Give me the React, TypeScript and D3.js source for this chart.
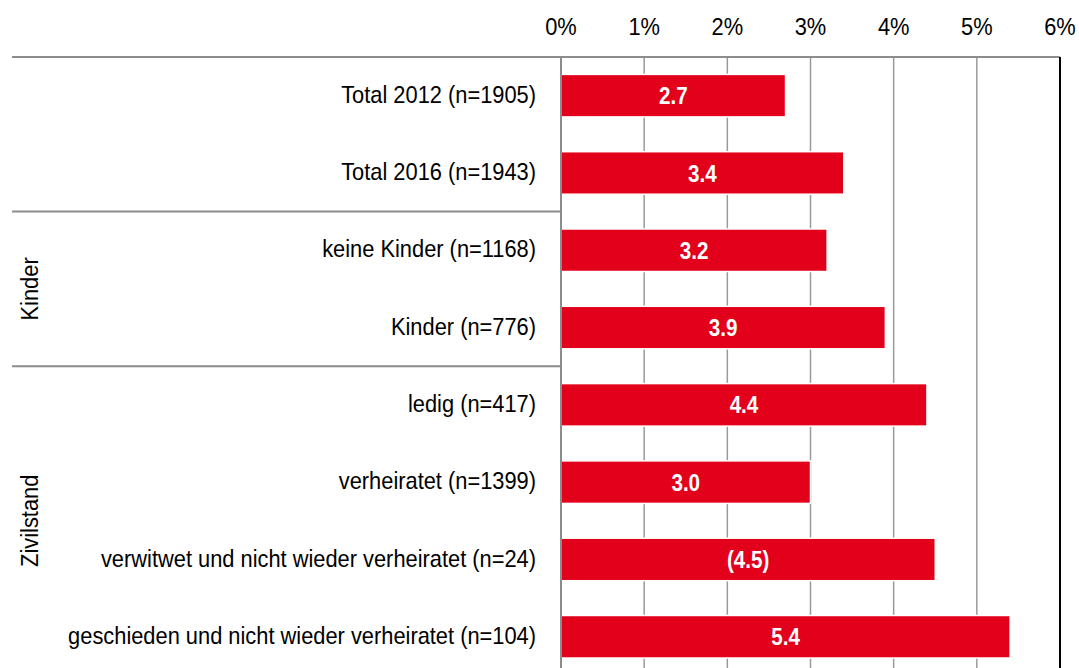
import React, { useRef, useEffect } from "react";
import * as d3 from "d3";

const categories = [
  "Total 2012 (n=1905)",
  "Total 2016 (n=1943)",
  "keine Kinder (n=1168)",
  "Kinder (n=776)",
  "ledig (n=417)",
  "verheiratet (n=1399)",
  "verwitwet und nicht wieder verheiratet (n=24)",
  "geschieden und nicht wieder verheiratet (n=104)",
];
const values = [2.7, 3.4, 3.2, 3.9, 4.4, 3.0, 4.5, 5.4];
const valueLabels = ["2.7", "3.4", "3.2", "3.9", "4.4", "3.0", "(4.5)", "5.4"];
const groupNames = ["", "Kinder", "Zivilstand"];
const groupStarts = [0, 2, 4];
const groupEnds = [2, 4, 8];
const ticks = [0, 1, 2, 3, 4, 5, 6];

const App = () => {
  const svgRef = useRef<SVGSVGElement>(null);

  useEffect(() => {
    const svg = d3.select(svgRef.current);
    svg.selectAll("*").remove();
    const width = 1079;
    const height = 668;
    const top = 57;
    const left = 561;
    const right = 1060;
    const step = 77.3;
    const font = "'Liberation Sans', Arial, sans-serif";
    // narrow look of the original font
    const sx = 0.91;

    const x = d3.scaleLinear().domain([0, 6]).range([left, right]);
    const y = d3
      .scaleBand()
      .domain(categories)
      .range([top, top + step * categories.length])
      .paddingInner(0.45)
      .paddingOuter(0.225);

    const data = categories.map((c, i) => ({ c, v: values[i], l: valueLabels[i] }));

    // gridlines
    svg
      .append("g")
      .selectAll("line")
      .data(ticks.filter((t) => t > 0 && t < 6))
      .join("line")
      .attr("x1", (d) => x(d))
      .attr("x2", (d) => x(d))
      .attr("y1", top)
      .attr("y2", height)
      .attr("stroke", "#9a9a9a")
      .attr("stroke-width", 1.5);

    // bars
    svg
      .append("g")
      .selectAll("rect")
      .data(data)
      .join("rect")
      .attr("x", x(0))
      .attr("y", (d) => y(d.c)!)
      .attr("width", (d) => x(d.v) - x(0))
      .attr("height", y.bandwidth())
      .attr("fill", "#e2001a")
      .attr("stroke", "#fff")
      .attr("stroke-width", 1.5);

    svg
      .append("g")
      .selectAll("text")
      .data(data)
      .join("text")
      .attr(
        "transform",
        (d) => `translate(${(x(0) + x(d.v)) / 2},${y(d.c)! + y.bandwidth() / 2}) scale(0.86,1)`
      )
      .attr("dy", "0.36em")
      .attr("text-anchor", "middle")
      .attr("fill", "#fff")
      .attr("font-family", font)
      .attr("font-weight", "bold")
      .attr("font-size", 24)
      .text((d) => d.l);

    // axes frame
    svg
      .append("line")
      .attr("x1", 12)
      .attr("x2", right)
      .attr("y1", top)
      .attr("y2", top)
      .attr("stroke", "#8c8c8c")
      .attr("stroke-width", 2);
    svg
      .append("line")
      .attr("x1", x(0))
      .attr("x2", x(0))
      .attr("y1", top)
      .attr("y2", height)
      .attr("stroke", "#8c8c8c")
      .attr("stroke-width", 2);
    svg
      .append("line")
      .attr("x1", x(6))
      .attr("x2", x(6))
      .attr("y1", top)
      .attr("y2", height)
      .attr("stroke", "#000")
      .attr("stroke-width", 2);

    // tick labels
    svg
      .append("g")
      .selectAll("text")
      .data(ticks)
      .join("text")
      .attr("transform", (d) => `translate(${x(d)},35) scale(${sx},1)`)
      .attr("text-anchor", "middle")
      .attr("font-family", font)
      .attr("font-size", 24)
      .attr("fill", "#000")
      .text((d) => `${d}%`);

    // category labels
    svg
      .append("g")
      .selectAll("text")
      .data(categories)
      .join("text")
      .attr(
        "transform",
        (d) => `translate(536,${y(d)! + y.bandwidth() / 2}) scale(${sx},1)`
      )
      .attr("dy", "0.3em")
      .attr("text-anchor", "end")
      .attr("font-family", font)
      .attr("font-size", 24)
      .attr("fill", "#000")
      .text((d) => d);

    // group separators and labels
    const bandTop = (i: number) => top + step * i;
    svg
      .append("g")
      .selectAll("line")
      .data(groupStarts.filter((s) => s > 0))
      .join("line")
      .attr("x1", 12)
      .attr("x2", x(0))
      .attr("y1", (d) => bandTop(d))
      .attr("y2", (d) => bandTop(d))
      .attr("stroke", "#8c8c8c")
      .attr("stroke-width", 2);

    svg
      .append("g")
      .selectAll("text")
      .data(groupNames.map((n, i) => ({ n, s: groupStarts[i], e: groupEnds[i] })).filter((g) => g.n))
      .join("text")
      .attr(
        "transform",
        (d) => `translate(31,${(bandTop(d.s) + bandTop(d.e)) / 2}) rotate(-90) scale(${sx},1)`
      )
      .attr("text-anchor", "middle")
      .attr("dy", "0.3em")
      .attr("font-family", font)
      .attr("font-size", 24)
      .attr("fill", "#000")
      .text((d) => d.n);

    svg.attr("viewBox", [0, 0, width, height]);
  }, []);

  return (
    <svg
      ref={svgRef}
      width="1079"
      height="668"
      style={{ position: "absolute", left: 0, top: 0, background: "#fff" }}
    ></svg>
  );
};

export default App;
